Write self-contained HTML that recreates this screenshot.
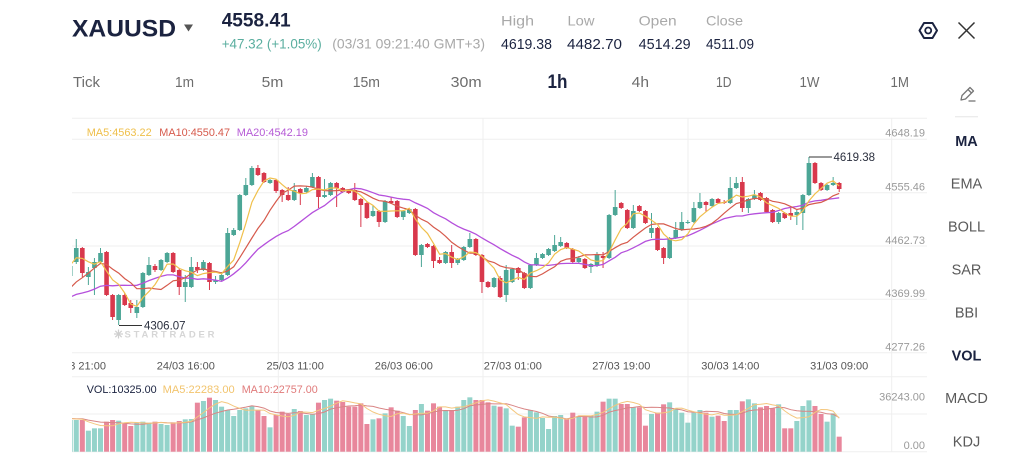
<!DOCTYPE html>
<html>
<head>
<meta charset="utf-8">
<style>
  html,body{margin:0;padding:0;background:#fff;}
  body{width:1024px;height:471px;overflow:hidden;}
  svg{display:block;font-family:"Liberation Sans",Arial,sans-serif;}
</style>
</head>
<body>
<svg id="s" width="1024" height="471" viewBox="0 0 1024 471" xmlns="http://www.w3.org/2000/svg">
  <defs>
    <clipPath id="cp"><rect x="72" y="118" width="820" height="235"/></clipPath>
    <clipPath id="cv"><rect x="72" y="377" width="820" height="75"/></clipPath>
    <clipPath id="cx"><rect x="72" y="352" width="860" height="24"/></clipPath>
  </defs>
  <rect width="1024" height="471" fill="#fff"/>

  <!-- Header -->
  <text x="72" y="36.7" font-size="24" font-weight="bold" fill="#1b2340" textLength="104" lengthAdjust="spacingAndGlyphs">XAUUSD</text>
  <polygon points="184,24.5 193,24.5 188.5,31.5" fill="#555"/>
  <text x="221.7" y="26.7" font-size="19.5" font-weight="bold" fill="#1b2340" textLength="69" lengthAdjust="spacingAndGlyphs">4558.41</text>
  <text x="221.7" y="48.3" font-size="14" fill="#5aae9f" textLength="100" lengthAdjust="spacingAndGlyphs">+47.32 (+1.05%)</text>
  <text x="332.3" y="48.3" font-size="14" fill="#a8a8a8" textLength="152.7" lengthAdjust="spacingAndGlyphs">(03/31 09:21:40 GMT+3)</text>

  <g font-size="14" fill="#a9a9a9">
    <text x="501" y="25.5" textLength="33" lengthAdjust="spacingAndGlyphs">High</text>
    <text x="567.5" y="25.5" textLength="27" lengthAdjust="spacingAndGlyphs">Low</text>
    <text x="638.6" y="25.5" textLength="38" lengthAdjust="spacingAndGlyphs">Open</text>
    <text x="706" y="25.5" textLength="37" lengthAdjust="spacingAndGlyphs">Close</text>
  </g>
  <g font-size="14.5" fill="#1b2340">
    <text x="501" y="49" textLength="51" lengthAdjust="spacingAndGlyphs">4619.38</text>
    <text x="567" y="49" textLength="55" lengthAdjust="spacingAndGlyphs">4482.70</text>
    <text x="638.6" y="49" textLength="52" lengthAdjust="spacingAndGlyphs">4514.29</text>
    <text x="706" y="49" textLength="48" lengthAdjust="spacingAndGlyphs">4511.09</text>
  </g>

  <!-- settings hexagon -->
  <polygon points="919.5,30.5 924,23 932.5,23 937,30.5 932.5,38 924,38" fill="none" stroke="#1b2340" stroke-width="2" stroke-linejoin="round"/>
  <circle cx="928.2" cy="30.5" r="3" fill="none" stroke="#1b2340" stroke-width="1.8"/>
  <!-- close X -->
  <line x1="958.5" y1="22.5" x2="974.5" y2="38.5" stroke="#333" stroke-width="1.5"/>
  <line x1="974.5" y1="22.5" x2="958.5" y2="38.5" stroke="#333" stroke-width="1.5"/>

  <!-- timeframe row -->
  <g font-size="15" fill="#6d6d6d">
    <text x="73" y="87" textLength="27" lengthAdjust="spacingAndGlyphs">Tick</text>
    <text x="175" y="87" textLength="19" lengthAdjust="spacingAndGlyphs">1m</text>
    <text x="261.7" y="87" textLength="21.6" lengthAdjust="spacingAndGlyphs">5m</text>
    <text x="352.7" y="87" textLength="27.3" lengthAdjust="spacingAndGlyphs">15m</text>
    <text x="450.7" y="87" textLength="31" lengthAdjust="spacingAndGlyphs">30m</text>
    <text x="631.7" y="87" textLength="17.3" lengthAdjust="spacingAndGlyphs">4h</text>
    <text x="716" y="87" textLength="15.5" lengthAdjust="spacingAndGlyphs">1D</text>
    <text x="799.5" y="87" textLength="20" lengthAdjust="spacingAndGlyphs">1W</text>
    <text x="890.5" y="87" textLength="18.5" lengthAdjust="spacingAndGlyphs">1M</text>
  </g>
  <text x="547.5" y="88" font-size="19" font-weight="bold" fill="#1b2340" textLength="20" lengthAdjust="spacingAndGlyphs">1h</text>

  <!-- pencil icon -->
  <g fill="none" stroke="#777" stroke-width="1.3" stroke-linejoin="round">
    <path d="M961,100 L962,95.5 L970,87.5 L973.5,91 L965.5,99 Z"/>
    <line x1="968" y1="89.5" x2="971.5" y2="93"/>
    <line x1="968.5" y1="101" x2="975.5" y2="101"/>
  </g>

  <!-- sidebar -->
  <line x1="955" y1="116.7" x2="978" y2="116.7" stroke="#e6e6e6" stroke-width="1"/>
  <g font-size="14.5" fill="#5a5a5a" text-anchor="middle">
    <text x="966.5" y="146" font-weight="bold" fill="#1b2340">MA</text>
    <text x="966.5" y="188.5">EMA</text>
    <text x="966.5" y="231.5">BOLL</text>
    <text x="966.5" y="274.5">SAR</text>
    <text x="966.5" y="317.5">BBI</text>
    <text x="966.5" y="360.5" font-weight="bold" fill="#1b2340">VOL</text>
    <text x="966.5" y="403">MACD</text>
    <text x="966.5" y="446.5">KDJ</text>
  </g>

  <!-- grid -->
  <g stroke="#efefef" stroke-width="1">
    <line x1="72" y1="118.3" x2="927" y2="118.3"/>
    <line x1="72" y1="139.3" x2="927" y2="139.3"/>
    <line x1="72" y1="192.7" x2="927" y2="192.7"/>
    <line x1="72" y1="246" x2="927" y2="246"/>
    <line x1="72" y1="299.3" x2="927" y2="299.3"/>
    <line x1="72" y1="352.7" x2="927" y2="352.7"/>
    <line x1="72" y1="376.7" x2="927" y2="376.7"/>
    <line x1="72" y1="414" x2="927" y2="414"/>
    <line x1="72" y1="451.7" x2="927" y2="451.7"/>
    <line x1="278.3" y1="118" x2="278.3" y2="452"/>
    <line x1="483" y1="118" x2="483" y2="452"/>
    <line x1="688" y1="118" x2="688" y2="452"/>
    <line x1="891.7" y1="118" x2="891.7" y2="452"/>
  </g>

  <!-- price axis labels -->
  <g font-size="11" fill="#9a9a9a" text-anchor="end">
    <text x="925" y="136.7">4648.19</text>
    <text x="925" y="190.4">4555.46</text>
    <text x="925" y="243.8">4462.73</text>
    <text x="925" y="297.2">4369.99</text>
    <text x="925" y="350.5">4277.26</text>
    <text x="925" y="400.5">36243.00</text>
    <text x="925" y="449.2">0.00</text>
  </g>

  <!-- legend -->
  <g font-size="11">
    <text x="86.7" y="136" fill="#efbf4a" textLength="65" lengthAdjust="spacingAndGlyphs">MA5:4563.22</text>
    <text x="159.3" y="136" fill="#d65a4c" textLength="70.7" lengthAdjust="spacingAndGlyphs">MA10:4550.47</text>
    <text x="236.7" y="136" fill="#b65bd6" textLength="71.3" lengthAdjust="spacingAndGlyphs">MA20:4542.19</text>
    <text x="86.7" y="393.2" fill="#1b2340" textLength="70" lengthAdjust="spacingAndGlyphs">VOL:10325.00</text>
    <text x="162.7" y="393.2" fill="#f2c46d" textLength="72" lengthAdjust="spacingAndGlyphs">MA5:22283.00</text>
    <text x="241.7" y="393.2" fill="#e07a7a" textLength="76" lengthAdjust="spacingAndGlyphs">MA10:22757.00</text>
  </g>

  <!-- x axis labels -->
  <g font-size="11" fill="#555" text-anchor="middle" clip-path="url(#cx)">
    <text x="76.9" y="369.3">23/03 21:00</text>
    <text x="185.8" y="369.3">24/03 16:00</text>
    <text x="295.2" y="369.3">25/03 11:00</text>
    <text x="403.8" y="369.3">26/03 06:00</text>
    <text x="512.8" y="369.3">27/03 01:00</text>
    <text x="621.3" y="369.3">27/03 19:00</text>
    <text x="730.3" y="369.3">30/03 14:00</text>
    <text x="839.2" y="369.3">31/03 09:00</text>
  </g>

  <!-- watermark -->
  <g stroke="#cfcfcf" stroke-width="1.2">
    <line x1="118.5" y1="329.5" x2="118.5" y2="338.5"/>
    <line x1="114" y1="334" x2="123" y2="334"/>
    <line x1="115.3" y1="330.8" x2="121.7" y2="337.2"/>
    <line x1="121.7" y1="330.8" x2="115.3" y2="337.2"/>
  </g>
  <text x="124.5" y="337.5" font-size="9.5" font-weight="bold" fill="#d6d6d6" textLength="90" lengthAdjust="spacing">STARTRADER</text>

  <g id="gp" clip-path="url(#cp)"></g>
  <g id="gv" clip-path="url(#cv)"></g>

  <!-- markers -->
  <line x1="119" y1="325.5" x2="142" y2="325.5" stroke="#333" stroke-width="1"/>
  <text x="144" y="329.5" font-size="11.5" fill="#2a2f3e">4306.07</text>
  <line x1="809" y1="157" x2="832" y2="157" stroke="#333" stroke-width="1"/>
  <text x="833.5" y="161" font-size="11.5" fill="#2a2f3e">4619.38</text>
</svg>

<script>
(function(){
var NS="http://www.w3.org/2000/svg";
function el(tag,attrs,parent){var e=document.createElementNS(NS,tag);for(var k in attrs)e.setAttribute(k,attrs[k]);parent.appendChild(e);return e;}
var C=[
[266,276,262,287,'g'],[248,262,239,264,'g'],[248,273,247,277,'r'],[272,277,267,285,'g'],[262,268,258,295,'g'],
[253,262,248,263,'g'],[252,295,251,296,'r'],[295,317,294,320,'r'],[295,320,294,325,'g'],[295,305,293,306,'r'],
[303,308,300,313,'r'],[307,313,300,318,'g'],[273,307,272,308,'g'],[265,275,257,276,'g'],[266,270,264,272,'r'],
[260,270,259,271,'g'],[253,262,252,263,'g'],[253,272,252,273,'r'],[270,287,268,295,'r'],[282,287,275,302,'g'],
[267,287,257,288,'g'],[267,270,262,273,'r'],[262,270,260,271,'g'],[263,282,262,290,'r'],[280,282,276,284,'g'],
[275,280,272,281,'g'],[233,275,228,276,'g'],[230,235,228,236,'g'],[195,230,194,231,'g'],[185,195,178,196,'g'],
[168,185,166,186,'g'],[168,175,165,176,'r'],[173,182,172,183,'r'],[180,183,179,184,'g'],[180,191,179,193,'r'],
[190,195,189,202,'r'],[195,200,187,201,'r'],[190,200,183,201,'g'],[189,193,188,205,'r'],[188,192,186,193,'g'],
[177,187,173,188,'g'],[177,197,176,208,'r'],[195,197,179,198,'g'],[183,195,182,196,'g'],[183,188,182,207,'r'],
[188,192,187,193,'r'],[190,193,189,194,'r'],[190,200,183,201,'r'],[199,205,198,227,'r'],[203,218,202,219,'r'],
[211,216,205,217,'g'],[211,222,210,227,'r'],[201,222,200,223,'g'],[201,203,197,204,'r'],[201,217,200,218,'r'],
[211,217,210,220,'g'],[209,213,208,214,'g'],[209,255,208,256,'r'],[245,255,244,267,'g'],[244,247,243,248,'r'],
[246,261,245,268,'r'],[260,263,257,264,'r'],[252,263,251,264,'g'],[252,263,245,268,'r'],[259,263,258,265,'g'],
[247,260,246,261,'g'],[239,247,233,248,'g'],[239,255,238,256,'r'],[255,282,254,293,'r'],[282,287,281,288,'r'],
[278,287,277,288,'g'],[278,297,276,298,'r'],[270,295,265,302,'g'],[269,282,268,283,'g'],[268,273,267,280,'r'],
[273,288,272,289,'r'],[265,288,264,289,'g'],[258,265,253,266,'g'],[254,258,253,259,'g'],[249,255,248,256,'g'],
[245,251,235,252,'g'],[242,246,237,247,'g'],[243,248,242,249,'r'],[249,262,248,263,'r'],[258,262,256,263,'g'],
[259,268,258,269,'r'],[264,267,263,273,'g'],[255,266,252,267,'g'],[256,258,252,268,'r'],[215,258,214,259,'g'],
[207,215,190,216,'g'],[203,208,202,209,'r'],[210,228,209,229,'r'],[211,228,205,229,'g'],[206,211,205,212,'r'],
[211,223,210,224,'r'],[228,233,213,238,'g'],[228,250,227,251,'r'],[248,258,247,264,'r'],[238,258,237,259,'g'],
[230,238,222,239,'g'],[222,230,212,231,'g'],[222,223,220,224,'g'],[208,222,202,223,'g'],[202,208,193,209,'g'],
[202,205,201,212,'r'],[199,206,198,207,'g'],[199,203,198,204,'r'],[202,203,200,204,'r'],[188,203,177,204,'g'],
[183,188,177,189,'g'],[182,208,177,212,'r'],[199,208,198,213,'g'],[195,199,190,200,'g'],[193,200,192,201,'r'],
[198,212,197,213,'r'],[210,222,209,223,'r'],[213,222,212,224,'g'],[213,218,212,219,'r'],[213,216,207,220,'r'],
[212,215,210,225,'g'],[195,213,194,230,'g'],[163,195,157,196,'g'],[163,183,162,184,'r'],[183,190,182,191,'r'],
[185,190,184,191,'g'],[183,185,177,186,'g'],[183,189,182,192,'r']
];
var V=[240,
240,240,272,265,265,245,240,242,250,258,248,245,248,245,252,255,247,243,238,237,188,183,173,180,200,210,228,210,205,198,210,228,262,225,215,222,207,213,225,222,188,180,176,182,186,200,200,190,252,238,235,220,202,212,228,258,210,192,212,190,200,210,210,200,180,
172,180,180,187,197,200,205,257,260,232,210,217,234,267,228,225,236,218,228,228,228,215,185,176,176,192,192,202,202,257,222,218,193,187,205,218,248,218,210,218,230,227,243,210,210,184,178,190,202,198,205,193,265,265,243,198,181,198,222,245,220,290];
var N=C.length;
function X(i){return 839.2-(N-1-i)*6.055;}
var gp=document.getElementById('gp'), gv=document.getElementById('gv');
var GC='#4ca696', RC='#d8384c', GV='#94d3ca', RV='#e8879c';
for(var i=0;i<N;i++){
  var c=C[i], x=X(i), col=c[4]=='g'?GC:RC;
  el('line',{x1:x,x2:x,y1:c[2],y2:c[3],stroke:col,'stroke-width':1},gp);
  el('rect',{x:(x-2.3).toFixed(2),y:c[0],width:4.6,height:Math.max(1,c[1]-c[0]),fill:col},gp);
  var top=340+V[i]/3;
  el('rect',{x:(x-2.5).toFixed(2),y:top.toFixed(2),width:5,height:(451.7-top).toFixed(2),fill:c[4]=='g'?GV:RV},gv);
}
var pre=[300,302,305,308,310,312,308,305,306,304,310,315,318,312,300,285,270,255,250];
var closes=C.map(function(c){return c[4]=='g'?c[0]:c[1];});
var P=pre.concat(closes), off=pre.length;
function ma(arr,n,o,f){var pts=[];for(var i=0;i<N;i++){var s=0;for(var k=0;k<n;k++)s+=arr[o+i-k];pts.push(X(i).toFixed(1)+','+f(s/n).toFixed(1));}return pts.join(' ');}
var id=function(v){return v;};
el('polyline',{points:ma(P,20,off,id),fill:'none',stroke:'#b550dc','stroke-width':1.3},gp);
el('polyline',{points:ma(P,10,off,id),fill:'none',stroke:'#d65a4c','stroke-width':1.2},gp);
el('polyline',{points:ma(P,5,off,id),fill:'none',stroke:'#f0c04c','stroke-width':1.2},gp);
var vpre=[235,235,235,235,235,235,235,235,235,235];
var VP=vpre.concat(V);
var vf=function(v){return 340+v/3;};
el('polyline',{points:ma(VP,10,10,vf),fill:'none',stroke:'#d98585','stroke-width':1},gv);
el('polyline',{points:ma(VP,5,10,vf),fill:'none',stroke:'#f4c77e','stroke-width':1},gv);
})();
</script>
</body>
</html>
